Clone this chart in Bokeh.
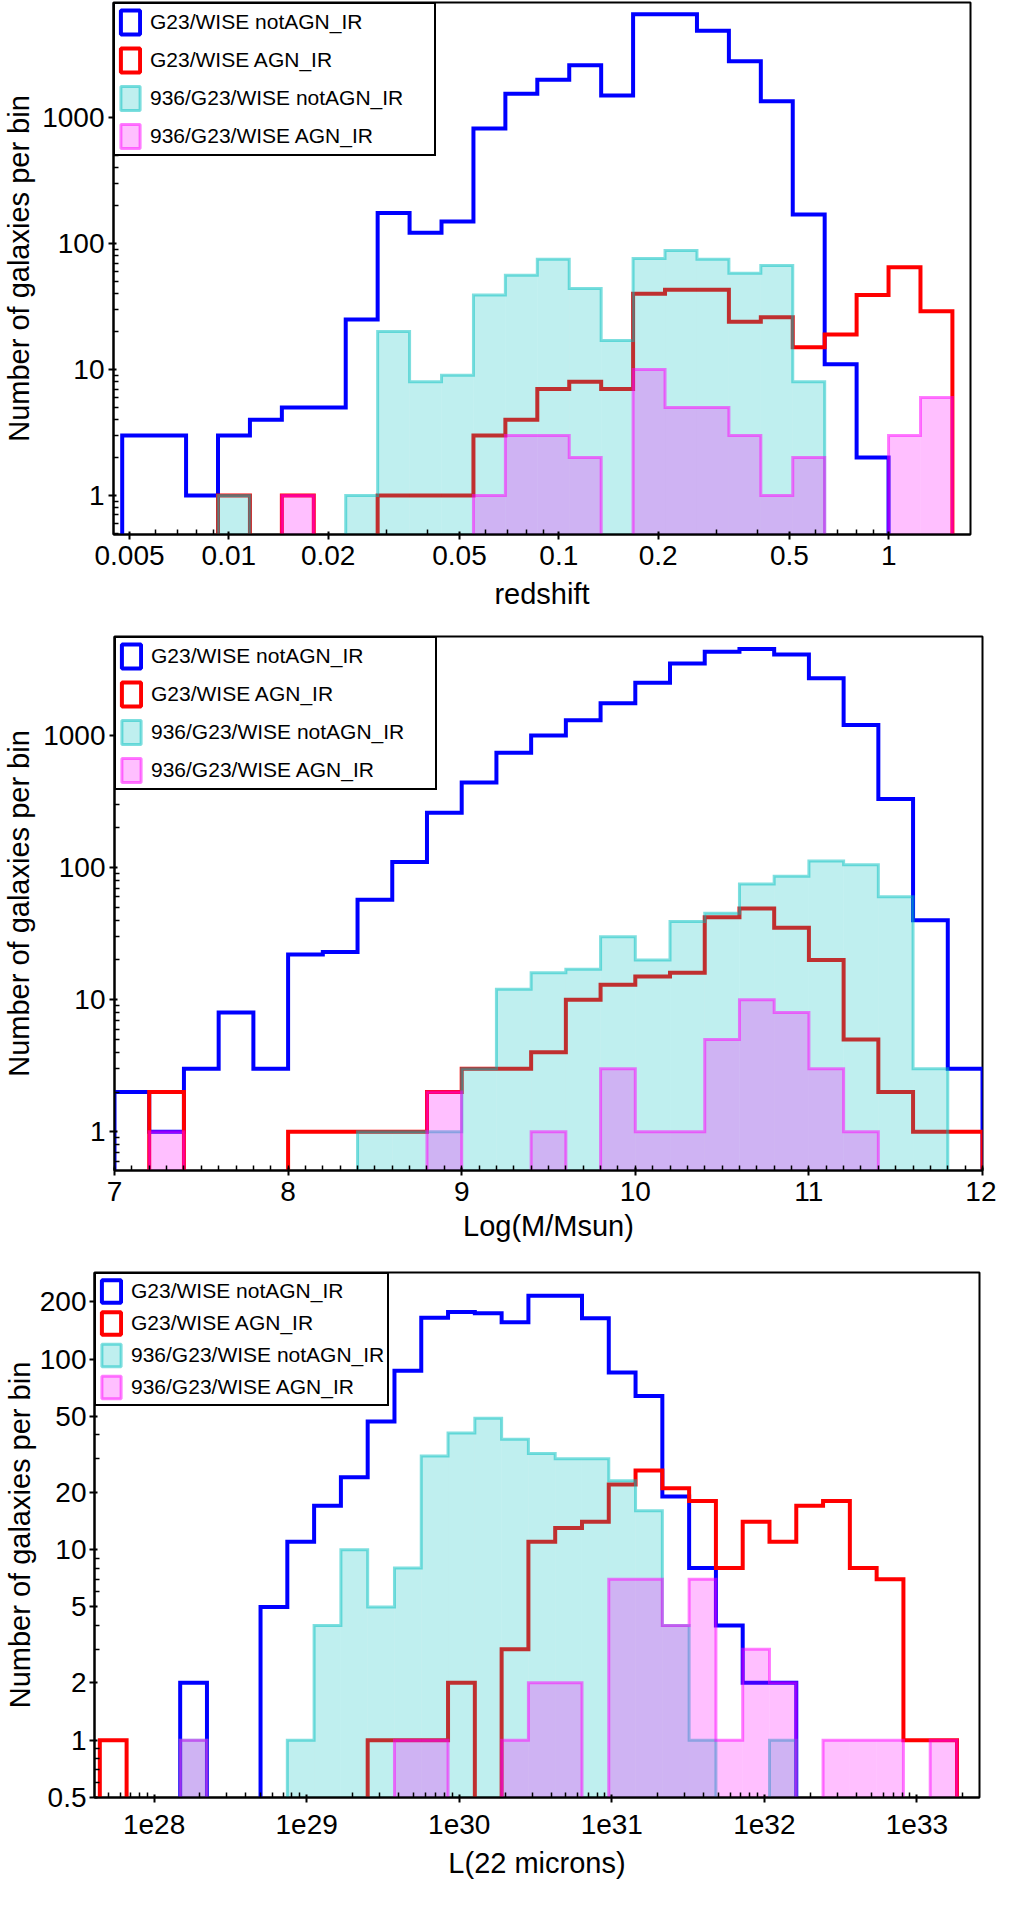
import numpy as np

from bokeh.plotting import figure
from bokeh.models import (Legend, LegendItem, FixedTicker, CustomJSTickFormatter,
                          SingleIntervalTicker, Range1d)
from bokeh.embed import file_html
from bokeh.resources import INLINE

FONT = "Liberation Sans"
FLOOR = 1e-3  # stand-in for empty bins on the log axis

# panel 1: redshift, 26 log bins
z_lo, z_hi, z_nbins = 0.00475, 1.56, 26
z_blue = [3, 3, 1, 3, 4, 5, 5, 25, 175, 122, 150, 820, 1550, 2000, 2600, 1500,
          6600, 6600, 4900, 2800, 1350, 170, 11, 2, 0, 0]
z_red = [0, 0, 0, 1, 0, 1, 0, 0, 1, 1, 1, 3, 4, 7, 8, 7, 40, 43, 43, 24, 26, 15,
         19, 39, 65, 29]
z_cyan = [0, 0, 0, 1, 0, 0, 0, 1, 20, 8, 9, 39, 56, 75, 44, 17, 76, 88, 75, 58, 67,
          8, 0, 0, 0, 0]
z_mag = [0, 0, 0, 0, 0, 1, 0, 0, 0, 0, 0, 1, 3, 3, 2, 0, 10, 5, 5, 3, 1, 2, 0, 0, 3, 6]
z_ticks = [0.005, 0.01, 0.02, 0.05, 0.1, 0.2, 0.5, 1]

# panel 2: stellar mass, 0.2 dex bins from 7 to 12
m_lo, m_hi, m_nbins = 7.0, 12.0, 25
m_blue = [2, 1, 3, 8, 3, 22, 23, 57, 110, 260, 440, 740, 1000, 1300, 1750, 2500,
          3500, 4300, 4500, 4100, 2700, 1200, 330, 40, 3]
m_red = [0, 2, 0, 0, 0, 1, 1, 1, 1, 2, 3, 3, 4, 10, 13, 15, 16, 42, 49, 35, 20, 5,
         2, 1, 1]
m_cyan = [0, 0, 0, 0, 0, 0, 0, 1, 1, 1, 3, 12, 16, 17, 30, 20, 39, 45, 75, 86, 112,
          105, 60, 3, 0]
m_mag = [0, 1, 0, 0, 0, 0, 0, 0, 0, 2, 0, 0, 1, 0, 3, 1, 1, 5, 10, 8, 3, 1, 0, 0, 0]

# panel 3: L(22 microns), 32 log bins
l_lo, l_hi, l_nbins = 4.41e27, 1.83e33, 32
l_blue = [0, 0, 0, 2, 0, 0, 5, 11, 17, 24, 47, 87, 165, 177, 174, 156, 215, 215,
          164, 85, 64, 19, 8, 4, 2, 2, 0, 0, 0, 0, 0, 0]
l_red = [1, 0, 0, 0, 0, 0, 0, 0, 0, 0, 1, 1, 1, 2, 0, 3, 11, 13, 14, 22, 26, 21, 18,
         8, 14, 11, 17, 18, 8, 7, 1, 1]
l_cyan = [0, 0, 0, 1, 0, 0, 0, 1, 4, 10, 5, 8, 31, 41, 49, 38, 32, 30, 30, 23, 16,
          4, 1, 0, 0, 1, 0, 0, 0, 0, 0, 0]
l_mag = [0, 0, 0, 1, 0, 0, 0, 0, 0, 0, 0, 1, 1, 0, 0, 1, 2, 2, 0, 7, 7, 4, 7, 1, 3,
         2, 0, 1, 1, 1, 0, 1]
l_ticks = [1e28, 1e29, 1e30, 1e31, 1e32, 1e33]
l_yticks = [0.5, 1, 2, 5, 10, 20, 50, 100, 200]

labels = ["G23/WISE notAGN_IR", "G23/WISE AGN_IR",
          "936/G23/WISE notAGN_IR", "936/G23/WISE AGN_IR"]

BLUE, RED, CYAN, MAG = "#0000ff", "#ff0000", "#00bfbf", "#ff00ff"
W = 996


def step_xy(edges, counts):
    xs, ys = [edges[0]], [FLOOR]
    for i, c in enumerate(counts):
        v = c if c > 0 else FLOOR
        xs += [edges[i], edges[i + 1]]
        ys += [v, v]
    xs.append(edges[-1])
    ys.append(FLOOR)
    return xs, ys


def minor_log(decades, majors):
    return [k * 10.0 ** d for d in decades for k in range(1, 10)
            if not any(abs(k * 10.0 ** d - m) < 1e-9 * m for m in majors)]


def draw_hists(p, edges, blue, red, cyan, mag, legend_kw):
    p.line(*step_xy(edges, blue), line_color=BLUE, line_width=4, line_join="miter")
    p.line(*step_xy(edges, red), line_color=RED, line_width=4, line_join="miter")
    for counts, col in ((cyan, CYAN), (mag, MAG)):
        idx = [i for i, c in enumerate(counts) if c > 0]
        p.quad(left=[edges[i] for i in idx], right=[edges[i + 1] for i in idx],
               bottom=FLOOR, top=[counts[i] for i in idx],
               fill_color=col, fill_alpha=0.25, line_color=None)
        p.line(*step_xy(edges, counts), line_color=col, line_alpha=0.5,
               line_width=3, line_join="miter")

    # legend swatches: flat boxes sitting at FLOOR, i.e. below the visible range
    box = dict(left=edges[:1], right=edges[1:2], top=[FLOOR], bottom=[FLOOR])
    proxies = [
        p.quad(**box, fill_color=None, line_color=BLUE, line_width=4),
        p.quad(**box, fill_color=None, line_color=RED, line_width=4),
        p.quad(**box, fill_color=CYAN, fill_alpha=0.25, line_color=CYAN,
               line_alpha=0.5, line_width=3),
        p.quad(**box, fill_color=MAG, fill_alpha=0.25, line_color=MAG,
               line_alpha=0.5, line_width=3),
    ]
    legend = Legend(items=[LegendItem(label=t, renderers=[r])
                           for t, r in zip(labels, proxies)],
                    location="top_left", margin=0, padding=3,
                    label_text_font=FONT, label_text_font_size="21px",
                    label_text_color="black",
                    label_standoff=8, glyph_width=24,
                    border_line_color="black", border_line_alpha=1.0,
                    border_line_width=2,
                    background_fill_alpha=1.0, **legend_kw)
    p.add_layout(legend)


def style(p, xlabel, tick_standoff=6, label_standoff=10, y_standoffs=(4, 4)):
    p.outline_line_color = "black"
    p.outline_line_alpha = 1.0
    p.outline_line_width = 2
    p.grid.visible = False
    p.xaxis.axis_label = xlabel
    p.yaxis.axis_label = "Number of galaxies per bin"
    for ax in (p.xaxis[0], p.yaxis[0]):
        ax.axis_line_width = 2
        ax.major_tick_line_width = 2
        ax.minor_tick_line_width = 1.5
        ax.major_tick_out = 5
        ax.major_tick_in = 3
        ax.minor_tick_out = 0
        ax.minor_tick_in = 5
        ax.major_label_text_font = FONT
        ax.major_label_text_font_size = "28px"
        ax.major_label_text_color = "black"
        ax.axis_label_text_font = FONT
        ax.axis_label_text_font_size = "29px"
        ax.axis_label_text_font_style = "normal"
        ax.axis_label_text_color = "black"
    p.xaxis.major_label_standoff = tick_standoff
    p.xaxis.axis_label_standoff = label_standoff
    p.yaxis.major_label_standoff = y_standoffs[0]
    p.yaxis.axis_label_standoff = y_standoffs[1]


plain = CustomJSTickFormatter(code="return String(tick)")

# ---- panel 1
z_edges = np.logspace(np.log10(z_lo), np.log10(z_hi), z_nbins + 1)
p1 = figure(width=W, height=622, x_axis_type="log", y_axis_type="log",
            x_range=Range1d(0.00447, 1.77), y_range=Range1d(0.49, 8200),
            output_backend="svg", toolbar_location=None,
            min_border_left=110, min_border_right=26, min_border_top=2,
            min_border_bottom=88)
draw_hists(p1, z_edges, z_blue, z_red, z_cyan, z_mag,
           dict(glyph_height=30, label_height=30, spacing=8, label_width=281))
style(p1, "redshift", 6, 10, (4, 4))
p1.xaxis.ticker = FixedTicker(ticks=z_ticks, minor_ticks=minor_log(range(-3, 1), z_ticks))
p1.xaxis.formatter = plain
p1.yaxis.ticker = FixedTicker(ticks=[1, 10, 100, 1000],
                              minor_ticks=minor_log(range(-1, 4), [1, 10, 100, 1000]))
p1.yaxis.formatter = plain

# ---- panel 2
m_edges = np.linspace(m_lo, m_hi, m_nbins + 1)
p2 = figure(width=W, height=630, y_axis_type="log",
            x_range=Range1d(7, 12), y_range=Range1d(0.51, 5600),
            output_backend="svg", toolbar_location=None,
            min_border_left=112, min_border_right=14, min_border_top=14,
            min_border_bottom=82)
draw_hists(p2, m_edges, m_blue, m_red, m_cyan, m_mag,
           dict(glyph_height=30, label_height=30, spacing=8, label_width=281))
style(p2, "Log(M/Msun)", 6, 6, (4, 5))
p2.xaxis.ticker = SingleIntervalTicker(interval=1, num_minor_ticks=10)
p2.yaxis.ticker = FixedTicker(ticks=[1, 10, 100, 1000],
                              minor_ticks=minor_log(range(-1, 4), [1, 10, 100, 1000]))
p2.yaxis.formatter = plain

# ---- panel 3
l_edges = np.logspace(np.log10(l_lo), np.log10(l_hi), l_nbins + 1)
p3 = figure(width=W, height=637, x_axis_type="log", y_axis_type="log",
            x_range=Range1d(4.07e27, 2.57e33), y_range=Range1d(0.5, 285),
            output_backend="svg", toolbar_location=None,
            min_border_left=89, min_border_right=17, min_border_top=20,
            min_border_bottom=92)
draw_hists(p3, l_edges, l_blue, l_red, l_cyan, l_mag,
           dict(glyph_height=28, label_height=28, spacing=4))
style(p3, "L(22 microns)", 12, 10, (3, 1))
p3.xaxis.ticker = FixedTicker(ticks=l_ticks, minor_ticks=minor_log(range(27, 34), l_ticks))
p3.xaxis.formatter = CustomJSTickFormatter(code="return '1e' + Math.round(Math.log10(tick))")
p3.yaxis.ticker = FixedTicker(ticks=l_yticks, minor_ticks=minor_log(range(-1, 3), l_yticks))
p3.yaxis.formatter = plain

# three separate roots stacked on the page, so each frame keeps its own borders
open("out.html", "w").write(file_html([p1, p2, p3], INLINE))
